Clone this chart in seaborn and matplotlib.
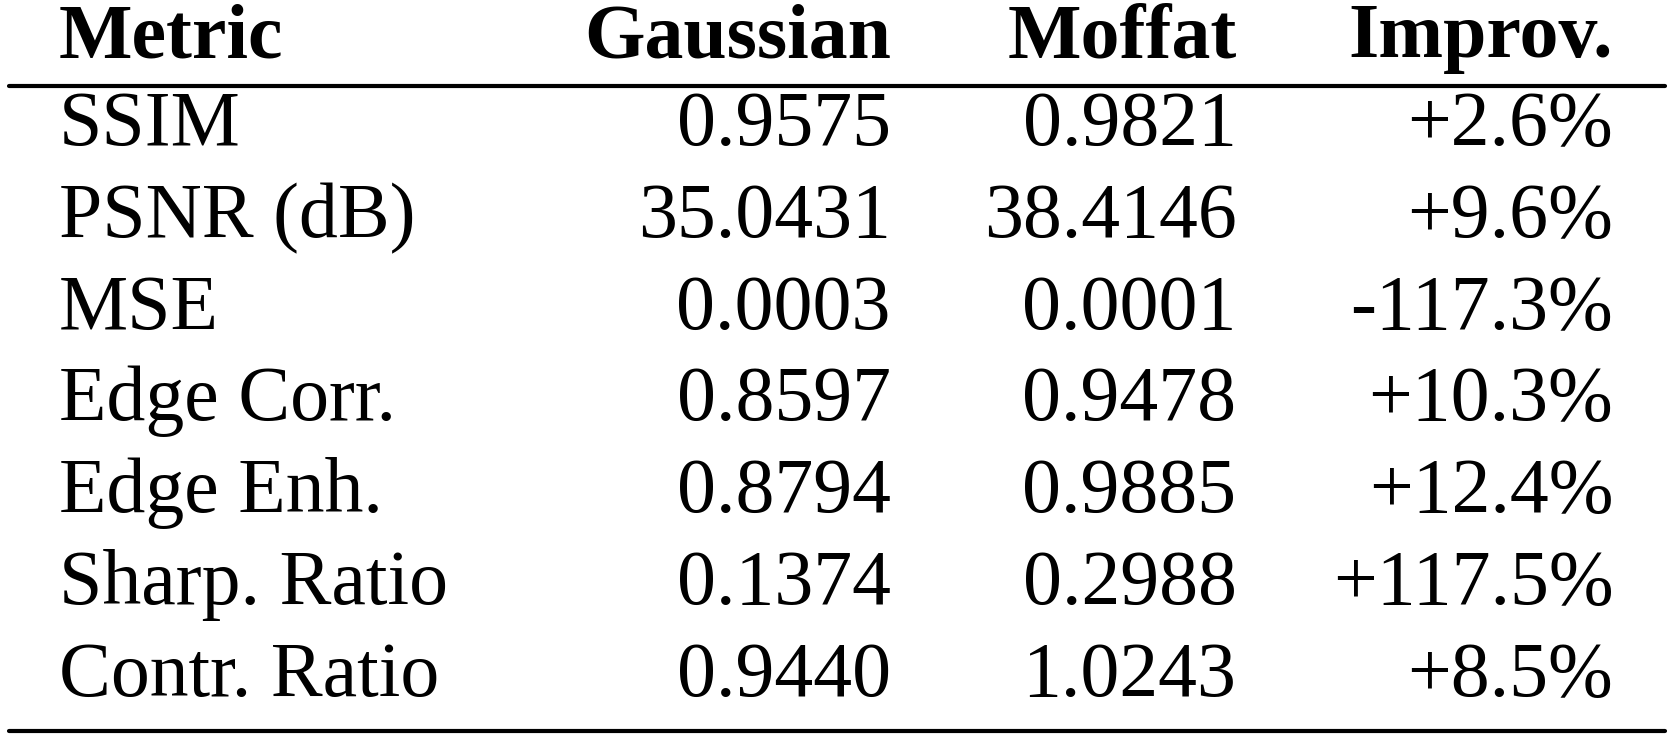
import matplotlib

matplotlib.use("Agg")
import matplotlib.pyplot as plt
import seaborn as sns

metrics = ["SSIM", "PSNR (dB)", "MSE", "Edge Corr.", "Edge Enh.", "Sharp. Ratio", "Contr. Ratio"]
gaussian = ["0.9575", "35.0431", "0.0003", "0.8597", "0.8794", "0.1374", "0.9440"]
moffat = ["0.9821", "38.4146", "0.0001", "0.9478", "0.9885", "0.2988", "1.0243"]
improv = ["+2.6%", "+9.6%", "-117.3%", "+10.3%", "+12.4%", "+117.5%", "+8.5%"]
headers = ["Metric", "Gaussian", "Moffat", "Improv."]

sns.set_theme(style="white")
plt.rcParams["font.family"] = ["Liberation Serif", "DejaVu Serif"]

fig = plt.figure(figsize=(16.7, 7.42), dpi=100)
ax = fig.add_axes([0, 0, 1, 1])
ax.set_xlim(0, 1560)
ax.set_ylim(693, 0)
ax.axis("off")

fs = 56
col_x = [55, 832, 1155, 1507]
aligns = ["left", "right", "right", "right"]

for x, ha, h in zip(col_x, aligns, headers):
    ax.text(x, 36, h, ha=ha, va="center", fontsize=fs, fontweight="bold", color="black")

ax.plot([8, 1555], [80, 80], color="black", lw=3)
ax.plot([8, 1555], [683, 683], color="black", lw=3)

row_y0, row_step = 118, 85.7
for i, row in enumerate(zip(metrics, gaussian, moffat, improv)):
    y = row_y0 + i * row_step
    for x, ha, val in zip(col_x, aligns, row):
        ax.text(x, y, val, ha=ha, va="center", fontsize=fs, color="black")

fig.savefig("out.png", dpi=100)
